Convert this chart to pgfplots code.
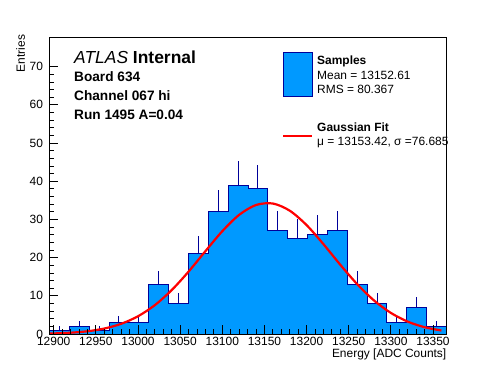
\documentclass[border=0pt]{standalone}
\usepackage{fontspec}
\setmainfont{Liberation Sans}
\usepackage{pgfplots}
\pgfplotsset{compat=1.18}
\definecolor{histfill}{RGB}{0,153,255}
\definecolor{histline}{RGB}{0,0,153}
\pgfplotstableread{
x y e
12906.78 1 1.000
12930.33 2 1.414
12953.88 1 1.000
12977.43 3 1.732
13000.98 3 1.732
13024.53 13 3.606
13048.08 8 2.828
13071.63 21 4.583
13095.18 32 5.657
13118.73 39 6.245
13142.28 38 6.164
13165.83 27 5.196
13189.38 25 5.000
13212.93 26 5.099
13236.48 27 5.196
13260.03 13 3.606
13283.58 8 2.828
13307.13 3 1.732
13330.68 7 2.646
13354.23 2 1.414
}\errtable
\begin{document}
\begin{tikzpicture}
\path[use as bounding box] (0,0) rectangle (496bp,372bp);
\begin{axis}[
  at={(49.5bp,38bp)}, anchor=south west,
  scale only axis, width=397bp, height=296.7bp,
  xmin=12895, xmax=13366, ymin=0, ymax=77.7,
  xtick={12900,12950,...,13350}, ytick={0,10,...,70},
  minor x tick num=4, minor y tick num=4,
  tick align=inside, xtick pos=left, ytick pos=left,
  major tick length=9bp, minor tick length=4.5bp,
  axis on top,
  axis line style={line width=0.8bp},
  every tick/.style={black, line width=0.8bp},
  scaled x ticks=false, scaled y ticks=false,
  /pgf/number format/assume math mode=true,
  /pgf/number format/1000 sep={},
  tick label style={font=\fontsize{12}{14}\selectfont},
  yticklabel style={xshift=-3bp},
  xlabel={Energy [ADC Counts]}, ylabel={Entries},
  label style={font=\fontsize{12}{14}\selectfont},
  xlabel style={at={(axis description cs:1,-0.0686)}, anchor=east, inner sep=0pt},
  ylabel style={at={(axis description cs:-0.0729,1.0084)}, anchor=east, inner sep=0pt},
]
\addplot[const plot, fill=histfill, draw=histline, line width=1bp] coordinates {
(12895,0) (12895,1) (12918.55,2) (12942.10,1) (12965.65,3) (12989.20,3)
(13012.75,13) (13036.30,8) (13059.85,21) (13083.40,32) (13106.95,39)
(13130.50,38) (13154.05,27) (13177.60,25) (13201.15,26) (13224.70,27)
(13248.25,13) (13271.80,8) (13295.35,3) (13318.90,7) (13342.45,2)
(13366,2) (13366,0)};
\addplot[draw=none, mark=none,
  error bars/.cd, y dir=plus, y explicit, error mark=none,
  error bar style={line width=1bp, draw=histline}]
  table[x=x, y=y, y error=e] {\errtable};
\addplot[red, line width=2.2bp, smooth] coordinates {
(12895,0.118) (12900,0.146) (12920,0.335) (12940,0.715) (12960,1.428)
(12980,2.663) (13000,4.642) (13020,7.56) (13040,11.50) (13060,16.34)
(13080,21.70) (13100,26.92) (13120,31.20) (13140,33.78) (13160,34.17)
(13180,32.30) (13200,28.52) (13220,23.53) (13240,18.13) (13260,13.06)
(13280,8.78) (13300,5.52) (13320,3.24) (13340,1.78) (13360,0.912)};
\end{axis}
% header text
\node[anchor=base west, inner sep=0pt, font=\fontsize{17.5}{19}\selectfont] at (74bp,308bp) {\textit{ATLAS} \textbf{Internal}};
\node[anchor=base west, inner sep=0pt, font=\fontsize{13.7}{15}\selectfont\bfseries] at (74bp,290bp) {Board 634};
\node[anchor=base west, inner sep=0pt, font=\fontsize{13.7}{15}\selectfont\bfseries] at (74bp,271bp) {Channel 067 hi};
\node[anchor=base west, inner sep=0pt, font=\fontsize{13.7}{15}\selectfont\bfseries] at (74bp,252bp) {Run 1495 A=0.04};
% legend
\draw[fill=histfill, draw=histline, line width=1bp] (283bp,275bp) rectangle (312bp,319bp);
\node[anchor=base west, inner sep=0pt, font=\fontsize{12}{14}\selectfont\bfseries] at (317bp,307bp) {Samples};
\node[anchor=base west, inner sep=0pt, font=\fontsize{12}{14}\selectfont] at (317bp,292bp) {Mean = 13152.61};
\node[anchor=base west, inner sep=0pt, font=\fontsize{12}{14}\selectfont] at (317bp,278bp) {RMS = 80.367};
\draw[red, line width=2.2bp] (283bp,236.3bp) -- (312bp,236.3bp);
\node[anchor=base west, inner sep=0pt, font=\fontsize{12}{14}\selectfont\bfseries] at (317bp,240bp) {Gaussian Fit};
\node[anchor=base west, inner sep=0pt, font=\fontsize{12}{14}\selectfont] at (317bp,226bp) {μ = 13153.42, σ =76.685};
\end{tikzpicture}
\end{document}
